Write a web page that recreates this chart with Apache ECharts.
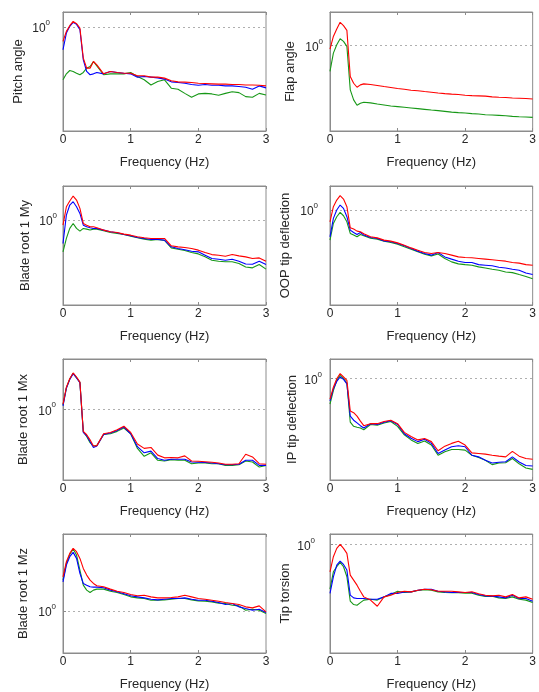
<!DOCTYPE html>
<html>
<head>
<meta charset="utf-8">
<script src="https://cdn.jsdelivr.net/npm/echarts@6/dist/echarts.min.js"></script>
<style>
  html, body { margin: 0; padding: 0; background: #fff; }
  #chart { width: 539px; height: 692px; }
</style>
</head>
<body>
<div id="chart"></div>
<script>
// frequency grid (Hz), shared by every panel
const freq = [0, 0.05, 0.1, 0.15, 0.2, 0.25, 0.3, 0.35, 0.4, 0.45, 0.5, 0.6, 0.7, 0.8, 0.9, 1.0, 1.1, 1.2, 1.3, 1.4, 1.5,
    1.6, 1.7, 1.8, 1.9, 2.0, 2.1, 2.2, 2.3, 2.4, 2.5, 2.6, 2.7, 2.8, 2.9, 3.0];

const panelNames = ['Pitch angle', 'Flap angle', 'Blade root 1 My', 'OOP tip deflection',
    'Blade root 1 Mx', 'IP tip deflection', 'Blade root 1 Mz', 'Tip torsion'];
const xTicks = [0, 1, 2, 3];
const yMax = [1.337, 1.921, 1.934, 1.593, 2.604, 1.455, 4.426, 1.222];
const yMin = [0.1337, 0.1921, 0.1934, 0.1593, 0.2604, 0.1455, 0.4426, 0.1222];

const pitchRed = [0.757, 0.919, 1.026, 1.116, 1.067, 0.981, 0.548, 0.451, 0.451, 0.513, 0.481, 0.404, 0.423, 0.415, 0.409, 0.409, 0.389, 0.389, 0.379, 0.379, 0.372, 0.353, 0.346, 0.344, 0.342, 0.337, 0.335, 0.333, 0.331, 0.331, 0.329, 0.329, 0.326, 0.326, 0.324, 0.320];
const pitchBlue = [0.644, 0.890, 1.013, 1.095, 1.053, 0.950, 0.530, 0.423, 0.397, 0.404, 0.415, 0.404, 0.423, 0.415, 0.409, 0.404, 0.379, 0.384, 0.379, 0.374, 0.365, 0.346, 0.342, 0.337, 0.329, 0.324, 0.329, 0.324, 0.324, 0.320, 0.320, 0.316, 0.312, 0.300, 0.320, 0.308];
const pitchGreen = [0.360, 0.404, 0.431, 0.423, 0.409, 0.397, 0.415, 0.451, 0.466, 0.513, 0.472, 0.397, 0.404, 0.404, 0.404, 0.415, 0.384, 0.360, 0.326, 0.348, 0.360, 0.306, 0.300, 0.277, 0.257, 0.274, 0.277, 0.274, 0.267, 0.277, 0.286, 0.281, 0.260, 0.257, 0.277, 0.268];

const flapRed = [0.937, 1.198, 1.382, 1.573, 1.474, 1.346, 0.551, 0.484, 0.448, 0.469, 0.478, 0.472, 0.463, 0.454, 0.446, 0.437, 0.431, 0.423, 0.418, 0.412, 0.407, 0.401, 0.396, 0.392, 0.389, 0.384, 0.381, 0.379, 0.377, 0.372, 0.369, 0.367, 0.364, 0.362, 0.360, 0.357];
const flapGreen = [0.608, 0.867, 1.019, 1.145, 1.088, 0.987, 0.426, 0.351, 0.316, 0.329, 0.335, 0.331, 0.324, 0.318, 0.312, 0.308, 0.304, 0.300, 0.296, 0.292, 0.288, 0.285, 0.281, 0.277, 0.274, 0.272, 0.269, 0.267, 0.263, 0.262, 0.260, 0.258, 0.255, 0.253, 0.252, 0.250];

const myRed = [0.907, 1.295, 1.446, 1.593, 1.474, 1.254, 0.937, 0.907, 0.879, 0.879, 0.862, 0.824, 0.797, 0.787, 0.762, 0.747, 0.724, 0.710, 0.701, 0.701, 0.701, 0.608, 0.596, 0.588, 0.577, 0.559, 0.534, 0.513, 0.507, 0.497, 0.513, 0.500, 0.491, 0.475, 0.481, 0.451];
const myBlue = [0.636, 1.102, 1.338, 1.427, 1.295, 1.138, 0.907, 0.879, 0.862, 0.851, 0.851, 0.824, 0.797, 0.782, 0.757, 0.738, 0.714, 0.701, 0.687, 0.687, 0.678, 0.596, 0.577, 0.563, 0.548, 0.541, 0.507, 0.475, 0.469, 0.460, 0.469, 0.451, 0.428, 0.425, 0.451, 0.423];
const myGreen = [0.541, 0.701, 0.851, 0.937, 0.851, 0.807, 0.851, 0.840, 0.824, 0.840, 0.840, 0.813, 0.787, 0.772, 0.757, 0.733, 0.710, 0.692, 0.678, 0.687, 0.674, 0.584, 0.569, 0.555, 0.534, 0.520, 0.491, 0.460, 0.451, 0.446, 0.446, 0.431, 0.404, 0.397, 0.423, 0.387];

const oopRed = [0.797, 1.067, 1.214, 1.321, 1.238, 1.067, 0.710, 0.692, 0.665, 0.657, 0.632, 0.596, 0.584, 0.559, 0.548, 0.530, 0.507, 0.481, 0.460, 0.440, 0.431, 0.440, 0.431, 0.418, 0.404, 0.399, 0.397, 0.392, 0.387, 0.382, 0.377, 0.372, 0.363, 0.358, 0.348, 0.344];
const oopBlue = [0.596, 0.851, 1.000, 1.102, 1.033, 0.879, 0.678, 0.648, 0.624, 0.648, 0.616, 0.588, 0.577, 0.551, 0.541, 0.524, 0.501, 0.475, 0.451, 0.431, 0.418, 0.440, 0.404, 0.387, 0.372, 0.363, 0.363, 0.348, 0.344, 0.340, 0.331, 0.326, 0.318, 0.312, 0.296, 0.287];
const oopGreen = [0.559, 0.772, 0.879, 0.956, 0.896, 0.797, 0.636, 0.616, 0.596, 0.624, 0.608, 0.580, 0.569, 0.548, 0.534, 0.517, 0.491, 0.469, 0.446, 0.426, 0.412, 0.428, 0.392, 0.367, 0.353, 0.348, 0.344, 0.333, 0.326, 0.318, 0.312, 0.302, 0.298, 0.287, 0.277, 0.265];

const mxRed = [1.102, 1.523, 1.789, 1.998, 1.849, 1.678, 0.657, 0.616, 0.559, 0.497, 0.501, 0.628, 0.644, 0.678, 0.724, 0.644, 0.517, 0.475, 0.484, 0.418, 0.397, 0.399, 0.397, 0.412, 0.374, 0.372, 0.369, 0.365, 0.360, 0.351, 0.351, 0.355, 0.425, 0.404, 0.355, 0.351];
const mxBlue = [1.067, 1.494, 1.767, 1.972, 1.813, 1.656, 0.644, 0.604, 0.541, 0.484, 0.497, 0.620, 0.636, 0.669, 0.714, 0.628, 0.491, 0.437, 0.451, 0.392, 0.379, 0.387, 0.387, 0.387, 0.367, 0.365, 0.363, 0.360, 0.355, 0.348, 0.348, 0.351, 0.379, 0.379, 0.344, 0.344];
const mxGreen = [1.081, 1.503, 1.778, 1.985, 1.826, 1.667, 0.652, 0.596, 0.530, 0.497, 0.501, 0.620, 0.628, 0.657, 0.701, 0.628, 0.475, 0.409, 0.437, 0.379, 0.374, 0.384, 0.379, 0.379, 0.355, 0.360, 0.360, 0.355, 0.355, 0.344, 0.344, 0.348, 0.374, 0.367, 0.333, 0.344];

const ipRed = [0.678, 0.851, 1.000, 1.102, 1.033, 0.968, 0.541, 0.524, 0.491, 0.446, 0.409, 0.425, 0.425, 0.443, 0.454, 0.425, 0.360, 0.333, 0.312, 0.320, 0.302, 0.254, 0.277, 0.292, 0.304, 0.283, 0.244, 0.241, 0.238, 0.233, 0.229, 0.226, 0.251, 0.229, 0.219, 0.216];
const ipBlue = [0.657, 0.824, 0.950, 1.033, 0.987, 0.907, 0.491, 0.454, 0.431, 0.409, 0.392, 0.425, 0.418, 0.437, 0.449, 0.418, 0.351, 0.322, 0.302, 0.316, 0.292, 0.241, 0.257, 0.274, 0.279, 0.274, 0.233, 0.226, 0.212, 0.201, 0.204, 0.206, 0.226, 0.205, 0.192, 0.190];
const ipGreen = [0.616, 0.797, 0.968, 1.067, 1.000, 0.919, 0.437, 0.404, 0.397, 0.392, 0.379, 0.418, 0.413, 0.431, 0.443, 0.404, 0.344, 0.312, 0.292, 0.306, 0.283, 0.233, 0.249, 0.260, 0.260, 0.257, 0.233, 0.223, 0.212, 0.195, 0.201, 0.202, 0.219, 0.198, 0.183, 0.178];

const mzRed = [1.934, 2.588, 3.042, 3.352, 3.142, 2.761, 2.274, 1.998, 1.813, 1.699, 1.624, 1.593, 1.523, 1.464, 1.427, 1.373, 1.338, 1.355, 1.312, 1.287, 1.287, 1.295, 1.312, 1.355, 1.312, 1.270, 1.254, 1.230, 1.206, 1.175, 1.153, 1.131, 1.081, 1.060, 1.102, 0.981];
const mzBlue = [1.755, 2.426, 2.852, 3.101, 2.761, 2.064, 1.699, 1.645, 1.593, 1.583, 1.583, 1.563, 1.494, 1.446, 1.391, 1.338, 1.312, 1.287, 1.254, 1.238, 1.254, 1.270, 1.270, 1.287, 1.254, 1.230, 1.230, 1.206, 1.175, 1.131, 1.153, 1.081, 1.046, 1.013, 1.033, 0.968];
const mzGreen = [1.813, 2.506, 2.984, 3.309, 2.945, 2.201, 1.645, 1.494, 1.427, 1.494, 1.523, 1.523, 1.464, 1.427, 1.373, 1.312, 1.287, 1.270, 1.230, 1.230, 1.238, 1.254, 1.270, 1.270, 1.238, 1.214, 1.206, 1.191, 1.161, 1.153, 1.116, 1.102, 1.013, 1.033, 1.013, 0.950];

const torRed = [0.588, 0.787, 0.925, 1.000, 0.925, 0.840, 0.551, 0.501, 0.454, 0.404, 0.362, 0.340, 0.302, 0.362, 0.374, 0.394, 0.404, 0.399, 0.412, 0.420, 0.415, 0.404, 0.404, 0.404, 0.399, 0.394, 0.399, 0.384, 0.374, 0.369, 0.374, 0.362, 0.379, 0.355, 0.362, 0.346];
const torBlue = [0.387, 0.534, 0.669, 0.724, 0.678, 0.608, 0.374, 0.355, 0.351, 0.351, 0.351, 0.346, 0.346, 0.362, 0.387, 0.387, 0.399, 0.399, 0.412, 0.420, 0.420, 0.404, 0.399, 0.394, 0.394, 0.394, 0.394, 0.379, 0.369, 0.367, 0.362, 0.355, 0.374, 0.351, 0.351, 0.333];
const torGreen = [0.420, 0.588, 0.648, 0.705, 0.648, 0.534, 0.333, 0.312, 0.308, 0.324, 0.340, 0.346, 0.340, 0.362, 0.379, 0.404, 0.394, 0.399, 0.409, 0.415, 0.412, 0.399, 0.394, 0.392, 0.392, 0.389, 0.389, 0.374, 0.365, 0.367, 0.355, 0.351, 0.362, 0.346, 0.340, 0.324];

// per panel: [green, blue, red] (red drawn last, on top)
const panelLines = [
    [pitchGreen, pitchBlue, pitchRed],
    [flapGreen, null, flapRed],
    [myGreen, myBlue, myRed],
    [oopGreen, oopBlue, oopRed],
    [mxGreen, mxBlue, mxRed],
    [ipGreen, ipBlue, ipRed],
    [mzGreen, mzBlue, mzRed],
    [torGreen, torBlue, torRed]
];

// layout
const colLeft = [63, 330];
const rowTop = [12, 186, 359, 534];
const rowH = [119, 119, 121, 120];
const nameGaps = [38, 33, 31, 38, 33, 31, 33, 38];
const labelMargins = [13, 7, 6, 12, 7, 8, 7, 15];
const lineColors = ['#179817', '#0000ff', '#ff0000'];
const axisGray = '#8c8c8c';
const textColor = '#262626';

const grids = [], xAxes = [], yAxes = [], series = [];
panelNames.forEach((name, p) => {
    const col = p % 2, row = Math.floor(p / 2);
    grids.push({
        left: colLeft[col], top: rowTop[row], width: 203, height: rowH[row],
        show: true, borderColor: axisGray, borderWidth: 1, backgroundColor: '#fff'
    });
    // bottom axis with labels
    xAxes.push({
        type: 'value', gridIndex: p, min: 0, max: 3, interval: 1, position: 'bottom',
        name: 'Frequency (Hz)', nameLocation: 'middle', nameGap: 25,
        nameTextStyle: { fontSize: 13, color: textColor, fontFamily: 'Liberation Sans' },
        axisLine: { show: true, lineStyle: { color: axisGray } },
        axisTick: { show: true, inside: true, length: 3, lineStyle: { color: axisGray } },
        axisLabel: {
            fontSize: 12, color: textColor, margin: 3, fontFamily: 'Liberation Sans',
            formatter: v => xTicks.includes(v) ? String(v) : ''
        },
        splitLine: { show: false }
    });
    // top axis only for the box ticks
    xAxes.push({
        type: 'value', gridIndex: p, min: 0, max: 3, interval: 1, position: 'top',
        axisLine: { show: true, lineStyle: { color: axisGray } },
        axisTick: { show: true, inside: true, length: 3, lineStyle: { color: axisGray } },
        axisLabel: { show: false },
        splitLine: { show: false }
    });
    yAxes.push({
        type: 'log', logBase: 10, gridIndex: p, min: yMin[p], max: yMax[p],
        name: name, nameLocation: 'middle', nameGap: nameGaps[p],
        nameTextStyle: { fontSize: 13, color: textColor, fontFamily: 'Liberation Sans' },
        axisLine: { show: true, lineStyle: { color: axisGray } },
        axisTick: { show: true, inside: true, length: 3, lineStyle: { color: axisGray } },
        axisLabel: {
            margin: labelMargins[p], fontFamily: 'Liberation Sans', color: textColor,
            formatter: v => Math.abs(v - 1) < 1e-6 ? '{b|10}{s|0}' : '',
            rich: {
                b: { fontSize: 12, lineHeight: 16, verticalAlign: 'bottom', color: textColor, fontFamily: 'Liberation Sans' },
                s: { fontSize: 8, lineHeight: 8, verticalAlign: 'top', color: textColor, fontFamily: 'Liberation Sans' }
            }
        },
        splitLine: {
            show: true, showMinLine: false, showMaxLine: false,
            lineStyle: { color: '#9a9a9a', width: 0.8, type: [2, 3] }
        }
    });
    panelLines[p].forEach((vals, k) => {
        if (!vals) return;
        series.push({
            type: 'line', xAxisIndex: 2 * p, yAxisIndex: p,
            data: freq.map((f, i) => [f, vals[i]]),
            showSymbol: false, silent: true, animation: false,
            lineStyle: { color: lineColors[k], width: 1.1 },
            itemStyle: { color: lineColors[k] }
        });
    });
});

const chart = echarts.init(document.getElementById('chart'), null, { renderer: 'canvas' });
chart.setOption({
    animation: false,
    backgroundColor: '#fff',
    textStyle: { fontFamily: 'Liberation Sans' },
    grid: grids,
    xAxis: xAxes,
    yAxis: yAxes,
    series: series
});
</script>
</body>
</html>
